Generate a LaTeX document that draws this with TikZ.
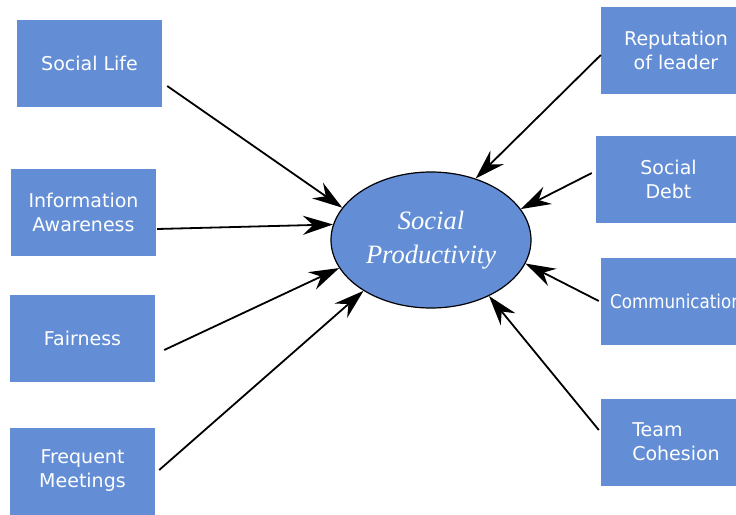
\documentclass[tikz,border=0pt]{standalone}
\usepackage{fontspec}
\usetikzlibrary{arrows.meta, shapes.geometric}
\newfontfamily\boxfont{DejaVu Sans}
\newfontfamily\condfont[FakeStretch=0.88]{DejaVu Sans}
\newfontfamily\ovalfont{Liberation Serif}
\definecolor{boxblue}{RGB}{99,142,214}

\begin{document}
\begin{tikzpicture}[x=1pt, y=-1pt,
	factor/.style={fill=boxblue, minimum width=145pt, minimum height=87pt, inner sep=0pt, text=white, font=\boxfont\fontsize{19}{24}\selectfont, align=center},
	widefactor/.style={factor, minimum width=150pt},
	link/.style={line width=1.8pt, -{Stealth[length=30pt, width=19pt, inset=10pt]}}]
	\useasboundingbox (0,0) rectangle (736,514);
	\clip (0,0) rectangle (736,514);
	\node[ellipse, draw, line width=1.2pt, fill=boxblue, minimum width=200pt, minimum height=136pt, inner sep=0pt, text=white, font=\ovalfont\itshape\fontsize{26.5}{34}\selectfont, align=center] (sp) at (431,240) {Social\\Productivity};
	\node[factor] (sl) at (89.5,63.5) {Social Life};
	\node[factor] (ia) at (83.5,212.5) {Information\\Awareness};
	\node[factor] (fa) at (82.5,338) {Fairness};
	\node[factor] (fm) at (82.5,471) {Frequent\\Meetings};
	\node[widefactor] (rl) at (676,50) {Reputation\\of leader};
	\node[factor] (sd) at (668.5,179.5) {Social\\Debt};
	\node[widefactor, font=\condfont\fontsize{19}{24}\selectfont] (co) at (676,301) {Communication};
	\node[widefactor, align=left] (tc) at (676,442) {Team\\Cohesion};
	\draw[link] ([shift={(5,22.5)}]sl.east) -- (sp.160);
	\draw[link] ([shift={(1,16.5)}]ia.east) -- (sp.171);
	\draw[link] ([shift={(9,12)}]fa.east) -- (sp.197);
	\draw[link] ([shift={(4,-1)}]fm.east) -- (sp.217);
	\draw[link] ([shift={(0,5)}]rl.west) -- (sp.54);
	\draw[link] ([shift={(-4,-6.5)}]sd.west) -- (sp.19);
	\draw[link] ([shift={(-2,0)}]co.west) -- (sp.-14);
	\draw[link] ([shift={(-2,-12)}]tc.west) -- (sp.-44);
\end{tikzpicture}
\end{document}
